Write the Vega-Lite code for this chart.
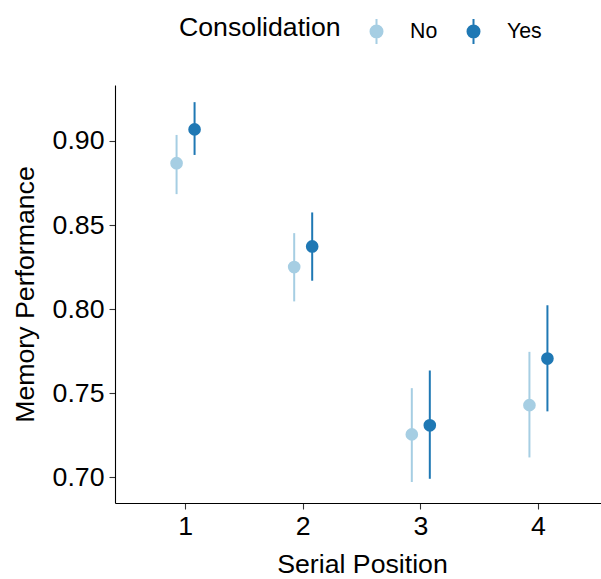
{
  "$schema": "https://vega.github.io/schema/vega-lite/v6.json",
  "autosize": "none",
  "width": 486,
  "height": 418,
  "padding": {"left": 115, "top": 85, "right": 0, "bottom": 76},
  "background": "white",
  "config": {
    "font": "Liberation Sans",
    "view": {"stroke": null},
    "axis": {
      "grid": false,
      "domainColor": "black",
      "domainWidth": 1.1,
      "tickColor": "#333333",
      "tickWidth": 1.1,
      "tickSize": 6,
      "labelFont": "Liberation Sans",
      "labelFontSize": 26.7,
      "labelColor": "black",
      "titleFont": "Liberation Sans",
      "titleFontSize": 26.7,
      "titleFontWeight": "normal",
      "titleColor": "black"
    },
    "legend": {
      "titleFont": "Liberation Sans",
      "titleFontSize": 26.7,
      "titleFontWeight": "normal",
      "titleColor": "black",
      "labelFont": "Liberation Sans",
      "labelFontSize": 21.3,
      "labelColor": "black"
    }
  },
  "data": {
    "values": [
      {"pos": "1", "cons": "No", "mean": 0.8868, "lo": 0.8684, "hi": 0.9036},
      {"pos": "1", "cons": "Yes", "mean": 0.9069, "lo": 0.8917, "hi": 0.9231},
      {"pos": "2", "cons": "No", "mean": 0.8250, "lo": 0.8046, "hi": 0.8452},
      {"pos": "2", "cons": "Yes", "mean": 0.8373, "lo": 0.8169, "hi": 0.8575},
      {"pos": "3", "cons": "No", "mean": 0.7255, "lo": 0.6972, "hi": 0.7530},
      {"pos": "3", "cons": "Yes", "mean": 0.7309, "lo": 0.6991, "hi": 0.7635},
      {"pos": "4", "cons": "No", "mean": 0.7429, "lo": 0.7118, "hi": 0.7746},
      {"pos": "4", "cons": "Yes", "mean": 0.7706, "lo": 0.7392, "hi": 0.8023}
    ]
  },
  "encoding": {
    "x": {
      "field": "pos",
      "type": "nominal",
      "sort": ["1", "2", "3", "4"],
      "scale": {"range": [0, 494], "paddingInner": 0.694, "paddingOuter": 0.447},
      "axis": {"title": "Serial Position", "labelAngle": 0, "labelPadding": 4, "titlePadding": 12}
    },
    "xOffset": {
      "field": "cons",
      "type": "nominal",
      "scale": {"domain": ["No", "Yes"], "paddingInner": 0, "paddingOuter": 0}
    },
    "color": {
      "field": "cons",
      "type": "nominal",
      "title": "Consolidation",
      "scale": {"domain": ["No", "Yes"], "range": ["#A6CEE3", "#1F78B4"]},
      "legend": {
        "orient": "none",
        "legendX": 64,
        "legendY": -67,
        "direction": "horizontal",
        "titleOrient": "left",
        "titlePadding": 22,
        "symbolType": "M0,-1L0,1M-0.48,0A0.48,0.48,0,1,0,0.48,0A0.48,0.48,0,1,0,-0.48,0Z",
        "symbolSize": 625,
        "symbolStrokeWidth": 2,
        "labelOffset": 20,
        "columnPadding": 22,
        "encode": {
          "title": {"update": {"dy": {"value": -5}}},
          "symbols": {
            "update": {
              "stroke": {"scale": "color", "field": "value"},
              "fill": {"scale": "color", "field": "value"},
              "strokeWidth": {"value": 2},
              "opacity": {"value": 1}
            }
          }
        }
      }
    }
  },
  "layer": [
    {
      "mark": {"type": "rule", "strokeWidth": 2},
      "encoding": {
        "y": {
          "field": "lo",
          "type": "quantitative",
          "scale": {"domain": [0.6847, 0.9333], "nice": false, "zero": false},
          "axis": {"title": "Memory Performance", "values": [0.7, 0.75, 0.8, 0.85, 0.9], "format": ".2f", "labelPadding": 5, "titlePadding": 13}
        },
        "y2": {"field": "hi"}
      }
    },
    {
      "mark": {"type": "point", "filled": true, "size": 160, "opacity": 1},
      "encoding": {
        "y": {"field": "mean", "type": "quantitative"}
      }
    }
  ]
}
